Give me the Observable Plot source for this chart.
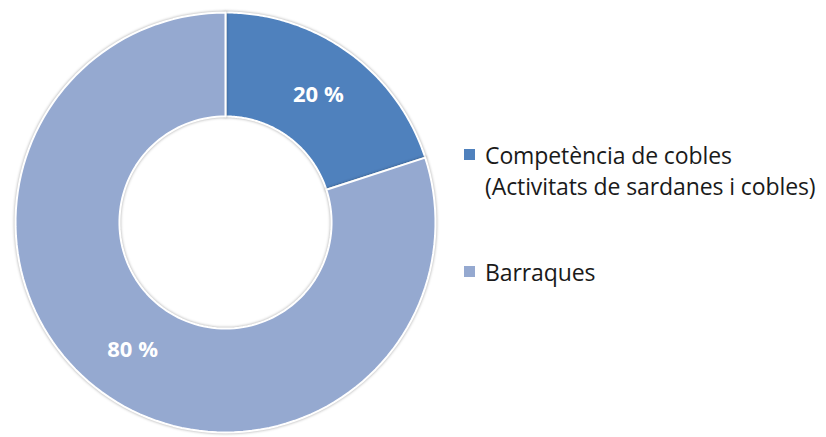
<!DOCTYPE html>
<html>
<head>
<meta charset="utf-8">
<script src="https://cdn.jsdelivr.net/npm/d3@7"></script>
<script src="https://cdn.jsdelivr.net/npm/@observablehq/plot@0.6"></script>
<style>
  html, body { margin: 0; padding: 0; background: #fff; }
  #wrap { position: relative; width: 826px; height: 437px; overflow: hidden; }
  #legend { position: absolute; left: 464px; top: 0; font-family: "Open Sans", sans-serif; font-size: 23px; color: #1a1a1a; letter-spacing: -0.1px; }
  .item { position: absolute; white-space: nowrap; line-height: 31px; }
  .sw { position: absolute; left: 0; width: 11px; height: 11px; }
  .lbl { position: absolute; left: 21px; top: 0; }
  .slices path { filter: drop-shadow(0 0 1.5px rgba(0,0,0,0.35)); }
</style>
</head>
<body>
<div id="wrap">
  <div id="chart"></div>
  <div id="legend"></div>
</div>
<script>
const categories = ["Competència de cobles\n(Activitats de sardanes i cobles)", "Barraques"];
const values = [20, 80];
const labels = ["20 %", "80 %"];
const colors = ["#4F81BD", "#95A9D0"];

const innerR = 0.505;
const outerR = 1;

const data = categories.map((c, i) => ({category: c, value: values[i], label: labels[i], color: colors[i]}));
const arcs = d3.pie().value(d => d.value).sort(null)(data);

// Polygon points for each ring slice (angles from d3.pie, 0 = top, clockwise)
const pts = [];
arcs.forEach((a, i) => {
  const n = 120;
  const ring = [];
  for (let k = 0; k <= n; k++) {
    const t = a.startAngle + (a.endAngle - a.startAngle) * k / n;
    ring.push({x: outerR * Math.sin(t), y: outerR * Math.cos(t)});
  }
  for (let k = n; k >= 0; k--) {
    const t = a.startAngle + (a.endAngle - a.startAngle) * k / n;
    ring.push({x: innerR * Math.sin(t), y: innerR * Math.cos(t)});
  }
  ring.forEach(p => pts.push({...p, category: a.data.category}));
});

const labelPts = arcs.map(a => {
  const m = (a.startAngle + a.endAngle) / 2;
  const r = (innerR + outerR) / 2;
  return {x: r * Math.sin(m), y: r * Math.cos(m), label: a.data.label};
});

const plot = Plot.plot({
  width: 826,
  height: 437,
  margin: 0,
  x: {domain: [-1, 1], range: [15, 435], axis: null},
  y: {domain: [-1, 1], range: [432, 12], axis: null},
  color: {domain: categories, range: colors},
  marks: [
    Plot.line(pts, {x: "x", y: "y", z: "category", fill: "category", stroke: "white", strokeWidth: 2, curve: "linear-closed", className: "slices"}),
    Plot.text(labelPts, {x: "x", y: "y", text: "label", fill: "white", fontWeight: "bold", fontSize: 22, fontFamily: "'Open Sans', sans-serif"})
  ]
});
document.getElementById("chart").appendChild(plot);

// Legend
const legend = document.getElementById("legend");
const tops = [140, 257];
data.forEach((d, i) => {
  const item = document.createElement("div");
  item.className = "item";
  item.style.top = tops[i] + "px";
  const sw = document.createElement("div");
  sw.className = "sw";
  sw.style.background = d.color;
  sw.style.top = "9px";
  const lb = document.createElement("div");
  lb.className = "lbl";
  lb.innerHTML = d.category.split("\n").join("<br>");
  item.appendChild(sw);
  item.appendChild(lb);
  legend.appendChild(item);
});
</script>
</body>
</html>
